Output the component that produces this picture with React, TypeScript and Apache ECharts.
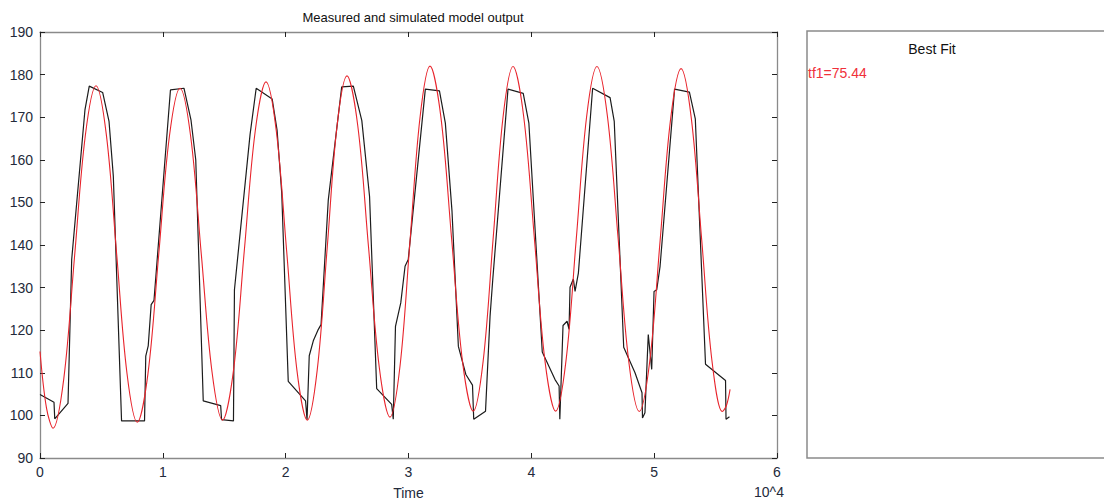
import React, { useEffect, useRef } from "react";
import * as echarts from "echarts";

const xTicks = ["0", "1", "2", "3", "4", "5", "6"];
const yTicks = [90, 100, 110, 120, 130, 140, 150, 160, 170, 180, 190];

const measuredTime = [
  0.0, 0.114, 0.12, 0.228, 0.258, 0.366, 0.401, 0.51, 0.562, 0.597, 0.664, 0.851, 0.861, 0.881, 0.905, 0.928,
  1.062, 1.172, 1.229, 1.268, 1.329, 1.471, 1.478, 1.575, 1.583, 1.71, 1.76, 1.89, 1.93, 1.968,
  2.021, 2.162, 2.174, 2.192, 2.225, 2.266, 2.288, 2.347, 2.456, 2.551, 2.62, 2.683, 2.741, 2.863, 2.876, 2.894, 2.937, 2.972, 2.998,
  3.137, 3.252, 3.3, 3.354, 3.406, 3.467, 3.521, 3.531, 3.627, 3.664, 3.686, 3.81, 3.934, 3.98,
  4.089, 4.193, 4.226, 4.232, 4.258, 4.291, 4.307, 4.315, 4.342, 4.356, 4.383, 4.499, 4.641, 4.675, 4.752, 4.844, 4.901, 4.905, 4.925, 4.952, 4.98, 4.999,
  5.021, 5.048, 5.166, 5.287, 5.335, 5.418, 5.581, 5.585, 5.613,
];
const measuredValue = [
  104.9, 103.1, 99.2, 102.8, 136.6, 171.7, 177.3, 175.8, 169.0, 156.1, 98.7, 98.7, 113.9, 116.3, 126.0, 127.0,
  176.4, 176.8, 169.4, 160.0, 103.4, 102.3, 99.0, 98.7, 129.5, 165.9, 176.8, 174.3, 167.0, 152.2,
  108.0, 103.4, 99.0, 114.0, 117.5, 120.2, 121.3, 150.6, 177.1, 177.3, 169.2, 151.4, 106.3, 102.6, 99.1, 120.9, 126.4, 135.0, 136.6,
  176.6, 176.2, 168.6, 148.0, 116.2, 109.6, 107.1, 99.1, 101.0, 123.3, 131.9, 176.6, 175.6, 168.6,
  114.9, 108.4, 106.9, 99.1, 121.1, 122.1, 120.2, 130.1, 132.0, 129.1, 133.4, 176.8, 174.6, 169.0, 116.0, 110.0, 105.3, 99.4, 100.6, 119.0, 110.8, 129.1,
  129.5, 135.0, 176.6, 175.9, 169.6, 112.0, 108.2, 99.1, 99.7,
];

const simTime = [
  0.0, 0.053, 0.106, 0.194, 0.281, 0.369, 0.456, 0.54, 0.624, 0.708, 0.792, 0.879, 0.966,
  1.053, 1.14, 1.227, 1.313, 1.4, 1.486, 1.575, 1.663, 1.752, 1.84, 1.924,
  2.008, 2.092, 2.176, 2.257, 2.338, 2.418, 2.499, 2.587, 2.674, 2.762, 2.849, 2.931,
  3.012, 3.094, 3.175, 3.263, 3.351, 3.439, 3.527, 3.608, 3.689, 3.77, 3.851, 3.938,
  4.025, 4.111, 4.198, 4.282, 4.366, 4.45, 4.534, 4.62, 4.707, 4.793, 4.879, 4.964,
  5.049, 5.134, 5.219, 5.303, 5.387, 5.471, 5.555, 5.587, 5.618,
];
const simValue = [
  115.0, 101.7, 97.0, 108.7, 137.2, 165.7, 177.4, 165.9, 137.9, 109.9, 98.4, 109.8, 137.6,
  165.4, 176.8, 165.4, 137.9, 110.3, 98.9, 110.5, 138.6, 166.7, 178.3, 166.7,
  138.6, 110.5, 98.9, 110.7, 139.3, 167.9, 179.7, 168.0, 139.7, 111.3, 99.6, 111.6,
  140.8, 170.0, 182.0, 170.2, 141.5, 112.8, 101.0, 112.8, 141.5, 170.1, 181.9, 170.1,
  141.5, 112.8, 101.0, 112.8, 141.5, 170.1, 181.9, 170.1, 141.4, 112.7, 100.9, 112.7,
  141.2, 169.6, 181.4, 169.6, 141.2, 112.7, 100.9, 102.2, 106.1,
];

const titleText = "Measured and simulated model output";
const xName = "Time";
const xExponent = "10^4";
const panelTitle = "Best Fit";
const fitText = "tf1=75.44";

export default function App() {
  const ref = useRef<HTMLDivElement>(null);
  useEffect(() => {
    if (!ref.current) return;
    const chart = echarts.init(ref.current, null, { renderer: "svg" });
    const font = "Arial, 'Liberation Sans', sans-serif";
    const labelColor = "#232a3b";
    const axisGrey = "#8a8a8a";
    const tick = { show: true, inside: true, length: 5, lineStyle: { color: "#222", width: 1 } };
    const measured = measuredTime.map((t, i) => [t, measuredValue[i]]);
    const sim = simTime.map((t, i) => [t, simValue[i]]);
    chart.setOption({
      animation: false,
      backgroundColor: "#ffffff",
      title: {
        text: titleText,
        left: 408,
        top: 6,
        textAlign: "center",
        textStyle: { fontFamily: font, fontSize: 13, fontWeight: "normal", color: "#111" },
      },
      grid: { left: 40, right: 327, top: 32, bottom: 44, containLabel: false, outerBoundsMode: "none" },
      xAxis: [
        {
          type: "value",
          min: 0,
          max: 6,
          interval: 1,
          position: "bottom",
          name: xName,
          nameLocation: "middle",
          nameGap: 28,
          nameTextStyle: { fontFamily: font, fontSize: 14, color: labelColor },
          axisLine: { show: true, onZero: false, lineStyle: { color: axisGrey, width: 1.3 } },
          axisTick: tick,
          axisLabel: {
            fontFamily: font,
            fontSize: 14,
            color: labelColor,
            margin: 7,
            formatter: (v: number) => xTicks[Math.round(v)] ?? "",
          },
          splitLine: { show: false },
        },
        {
          type: "value",
          min: 0,
          max: 6,
          interval: 1,
          position: "top",
          axisLine: { show: true, onZero: false, lineStyle: { color: axisGrey, width: 1.3 } },
          axisTick: tick,
          axisLabel: { show: false },
          splitLine: { show: false },
        },
      ],
      yAxis: [
        {
          type: "value",
          min: 90,
          max: 190,
          interval: 10,
          position: "left",
          axisLine: { show: true, onZero: false, lineStyle: { color: axisGrey, width: 1.3 } },
          axisTick: tick,
          axisLabel: {
            fontFamily: font,
            fontSize: 14,
            color: labelColor,
            margin: 7,
            formatter: (v: number) => (yTicks.includes(v) ? String(v) : ""),
          },
          splitLine: { show: false },
        },
        {
          type: "value",
          min: 90,
          max: 190,
          interval: 10,
          position: "right",
          axisLine: { show: true, onZero: false, lineStyle: { color: axisGrey, width: 1.3 } },
          axisTick: tick,
          axisLabel: { show: false },
          splitLine: { show: false },
        },
      ],
      series: [
        {
          name: "Measured",
          type: "line",
          data: measured,
          showSymbol: false,
          symbol: "none",
          lineStyle: { color: "#1c1c1c", width: 1.2 },
          z: 2,
        },
        {
          name: "Simulated",
          type: "line",
          data: sim,
          showSymbol: false,
          symbol: "none",
          smooth: 0.35,
          lineStyle: { color: "#e8242c", width: 1.1 },
          z: 3,
        },
      ],
      graphic: [
        {
          type: "text",
          left: 754,
          top: 485,
          style: { text: xExponent, fontFamily: font, fontSize: 14, fill: labelColor },
        },
        {
          type: "rect",
          shape: { x: 807, y: 31, width: 320, height: 427 },
          style: { fill: "#ffffff", stroke: axisGrey, lineWidth: 1.5 },
        },
        {
          type: "text",
          x: 932,
          y: 49,
          style: {
            text: panelTitle,
            fontFamily: font,
            fontSize: 14,
            fill: "#111",
            textAlign: "center",
            textVerticalAlign: "middle",
          },
        },
        {
          type: "text",
          x: 808,
          y: 73,
          style: {
            text: fitText,
            fontFamily: font,
            fontSize: 14,
            fill: "#f0303a",
            textAlign: "left",
            textVerticalAlign: "middle",
          },
        },
      ],
    });
    return () => chart.dispose();
  }, []);
  return <div ref={ref} style={{ width: 1104, height: 502, position: "absolute", left: 0, top: 0 }} />;
}
